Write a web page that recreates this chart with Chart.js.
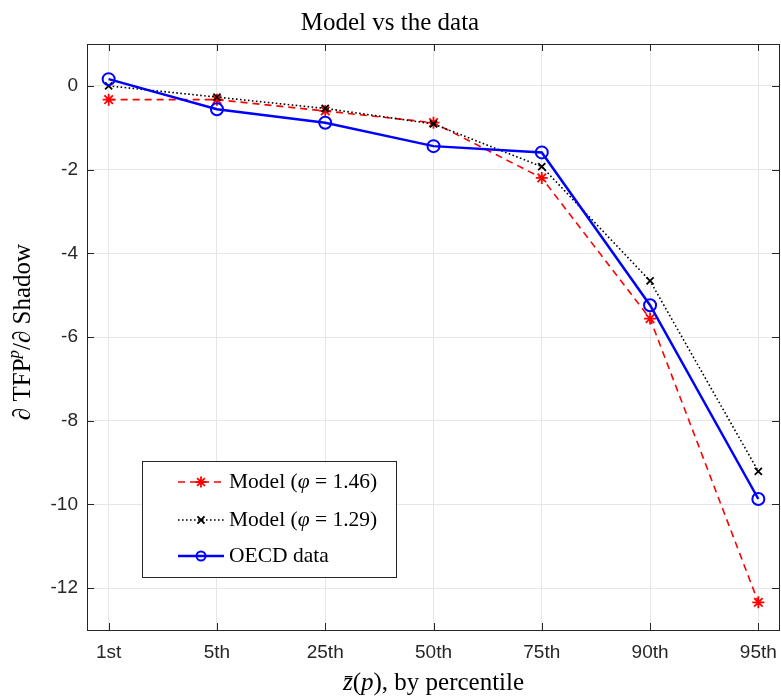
<!DOCTYPE html>
<html>
<head>
<meta charset="utf-8">
<script src="https://cdn.jsdelivr.net/npm/chart.js@4"></script>
<style>
  html, body { margin: 0; padding: 0; background: #fff; }
  #wrap { width: 781px; height: 697px; }
</style>
</head>
<body>
<div id="wrap"><canvas id="tfpChart"></canvas></div>
<script>
// percentile categories on the x axis
const percentiles = ["1st", "5th", "25th", "50th", "75th", "90th", "95th"];
// d TFP / d Shadow by percentile
const modelHigh = [-0.33, -0.33, -0.60, -0.88, -2.20, -5.56, -12.34]; // phi = 1.46
const modelLow = [0.0, -0.27, -0.54, -0.91, -1.93, -4.66, -9.21];     // phi = 1.29
const oecdData = [0.16, -0.56, -0.88, -1.44, -1.59, -5.24, -9.87];
const yTicks = [0, -2, -4, -6, -8, -10, -12];

const SERIF = "'Liberation Serif', 'DejaVu Serif', serif";
const SANS = "'Liberation Sans', Arial, sans-serif";
const AXIS_COLOR = "#262626";

function toXY(arr) {
  return arr.map(function (v, i) { return { x: i, y: v }; });
}

// draws a run of text pieces with their own fonts, centred on (x, y)
function richText(ctx, parts, x, y) {
  let total = 0;
  parts.forEach(function (p) { ctx.font = p.font; p.w = ctx.measureText(p.t).width; total += p.w; });
  let cx = x - total / 2;
  ctx.textBaseline = "middle";
  ctx.textAlign = "left";
  parts.forEach(function (p) {
    ctx.font = p.font;
    ctx.fillText(p.t, cx, y + (p.dy || 0));
    cx += p.w;
  });
}

function leftText(ctx, parts, x, y) {
  let cx = x;
  ctx.textBaseline = "middle";
  ctx.textAlign = "left";
  parts.forEach(function (p) {
    ctx.font = p.font;
    ctx.fillText(p.t, cx, y + (p.dy || 0));
    cx += ctx.measureText(p.t).width;
  });
}

const LEG_FONT = "21.5px " + SERIF;
const LEG_ITALIC = "italic 21.5px " + SERIF;
const legendLabels = [
  [{ t: "Model (", font: LEG_FONT }, { t: "φ", font: LEG_ITALIC }, { t: " = 1.46)", font: LEG_FONT }],
  [{ t: "Model (", font: LEG_FONT }, { t: "φ", font: LEG_ITALIC }, { t: " = 1.29)", font: LEG_FONT }],
  [{ t: "OECD data", font: LEG_FONT }]
];

// box, inward ticks, inset legend and the axis labels
const matlabFrame = {
  id: "matlabFrame",
  afterDraw: function (chart) {
    const ctx = chart.ctx;
    const a = chart.chartArea;
    const xs = chart.scales.x;
    const ys = chart.scales.y;
    ctx.save();

    ctx.strokeStyle = AXIS_COLOR;
    ctx.lineWidth = 1;
    ctx.strokeRect(Math.round(a.left) + 0.5, Math.round(a.top) + 0.5,
      Math.round(a.right - a.left) - 1, Math.round(a.bottom - a.top));

    const tl = 7;
    ctx.beginPath();
    xs.ticks.forEach(function (t) {
      const px = Math.round(xs.getPixelForValue(t.value)) + 0.5;
      ctx.moveTo(px, a.bottom); ctx.lineTo(px, a.bottom - tl);
      ctx.moveTo(px, a.top); ctx.lineTo(px, a.top + tl);
    });
    ys.ticks.forEach(function (t) {
      const py = Math.round(ys.getPixelForValue(t.value)) + 0.5;
      ctx.moveTo(a.left, py); ctx.lineTo(a.left + tl, py);
      ctx.moveTo(a.right - 1, py); ctx.lineTo(a.right - 1 - tl, py);
    });
    ctx.stroke();

    // legend
    const lx = 142.5, ly = 461.5, lw = 254, lh = 116;
    ctx.fillStyle = "#fff";
    ctx.fillRect(lx, ly, lw, lh);
    ctx.strokeStyle = AXIS_COLOR;
    ctx.setLineDash([]);
    ctx.strokeRect(lx, ly, lw, lh);
    const rows = [482, 520, 556];
    chart.data.datasets.forEach(function (ds, r) {
      const y = rows[r];
      ctx.strokeStyle = ds.borderColor;
      ctx.lineWidth = ds.borderWidth;
      ctx.setLineDash(ds.borderDash || []);
      ctx.beginPath();
      ctx.moveTo(178, y); ctx.lineTo(224, y);
      ctx.stroke();
      ctx.setLineDash([]);
      ctx.strokeStyle = ds.pointBorderColor;
      ctx.fillStyle = ds.pointBackgroundColor;
      ctx.lineWidth = ds.pointBorderWidth;
      Chart.helpers.drawPoint(ctx, {
        pointStyle: ds.pointStyle, radius: ds.legendRadius,
        borderWidth: ds.pointBorderWidth, rotation: 0
      }, 201, y);
      ctx.fillStyle = "#000";
      leftText(ctx, legendLabels[r], 229, y);
    });

    // x axis label
    ctx.fillStyle = "#000";
    richText(ctx, [
      { t: "z̄", font: "italic 25px " + SERIF },
      { t: "(", font: "25px " + SERIF },
      { t: "p", font: "italic 25px " + SERIF },
      { t: "), by percentile", font: "25px " + SERIF }
    ], (a.left + a.right) / 2, 683);

    // y axis label
    ctx.translate(23, 332);
    ctx.rotate(-Math.PI / 2);
    richText(ctx, [
      { t: "∂ TFP", font: "25px " + SERIF },
      { t: "p", font: "italic 17px " + SERIF, dy: -8 },
      { t: "/∂ Shadow", font: "25px " + SERIF }
    ], 0, 0);

    ctx.restore();
  }
};

document.addEventListener("DOMContentLoaded", function () {
  const ctx = document.getElementById("tfpChart").getContext("2d");
  new Chart(ctx, {
    type: "line",
    data: {
      datasets: [
        {
          label: "Model (φ = 1.46)",
          data: toXY(modelHigh),
          borderColor: "#ff0000",
          borderWidth: 1.6,
          borderDash: [7, 5],
          pointStyle: "star",
          pointRadius: 6,
          legendRadius: 5.5,
          pointBorderColor: "#ff0000",
          pointBackgroundColor: "#ff0000",
          pointBorderWidth: 1.8,
          clip: false,
          order: 3,
        },
        {
          label: "Model (φ = 1.29)",
          data: toXY(modelLow),
          borderColor: "#000000",
          borderWidth: 1.6,
          borderDash: [1.6, 2.4],
          pointStyle: "crossRot",
          pointRadius: 5,
          legendRadius: 5,
          pointBorderColor: "#000000",
          pointBackgroundColor: "#000000",
          pointBorderWidth: 1.8,
          clip: false,
          order: 2,
        },
        {
          label: "OECD data",
          data: toXY(oecdData),
          borderColor: "#0000ff",
          borderWidth: 2.5,
          pointStyle: "circle",
          pointRadius: 6,
          legendRadius: 4.5,
          pointBorderColor: "#0000ff",
          pointBackgroundColor: "rgba(0,0,0,0)",
          pointBorderWidth: 2,
          clip: false,
          order: 1,
        },
      ],
    },
    options: {
      responsive: true,
      maintainAspectRatio: false,
      animation: false,
      layout: { autoPadding: false, padding: { top: 0, right: 1, left: 0, bottom: 0 } },
      elements: { line: { tension: 0, fill: false } },
      plugins: {
        legend: { display: false },
        tooltip: { enabled: false },
        title: {
          display: true,
          text: "Model vs the data",
          color: "#000",
          font: { family: SERIF, size: 25, weight: "normal", lineHeight: 1.2 },
          padding: { top: 8, bottom: 6 },
        },
      },
      scales: {
        x: {
          type: "linear",
          min: -0.2,
          max: 6.2,
          afterBuildTicks: function (s) {
            s.ticks = percentiles.map(function (_, i) { return { value: i }; });
          },
          afterFit: function (s) {
            s.height = 67;
            s.paddingLeft = 0;
            s.paddingRight = 0;
          },
          ticks: {
            callback: function (v) { return percentiles[v]; },
            color: AXIS_COLOR,
            font: { family: SANS, size: 19 },
            padding: 11,
            maxRotation: 0,
            autoSkip: false,
          },
          grid: { color: "#e6e6e6", lineWidth: 1, drawTicks: false },
          border: { display: false },
        },
        y: {
          min: -13,
          max: 1,
          afterBuildTicks: function (s) {
            s.ticks = yTicks.map(function (v) { return { value: v }; });
          },
          afterFit: function (s) {
            s.width = 87;
            s.paddingTop = 0;
            s.paddingBottom = 0;
          },
          ticks: {
            color: AXIS_COLOR,
            font: { family: SANS, size: 19 },
            padding: 9,
          },
          grid: { color: "#e6e6e6", lineWidth: 1, drawTicks: false },
          border: { display: false },
        },
      },
    },
    plugins: [matlabFrame],
  });
});
</script>
</body>
</html>
